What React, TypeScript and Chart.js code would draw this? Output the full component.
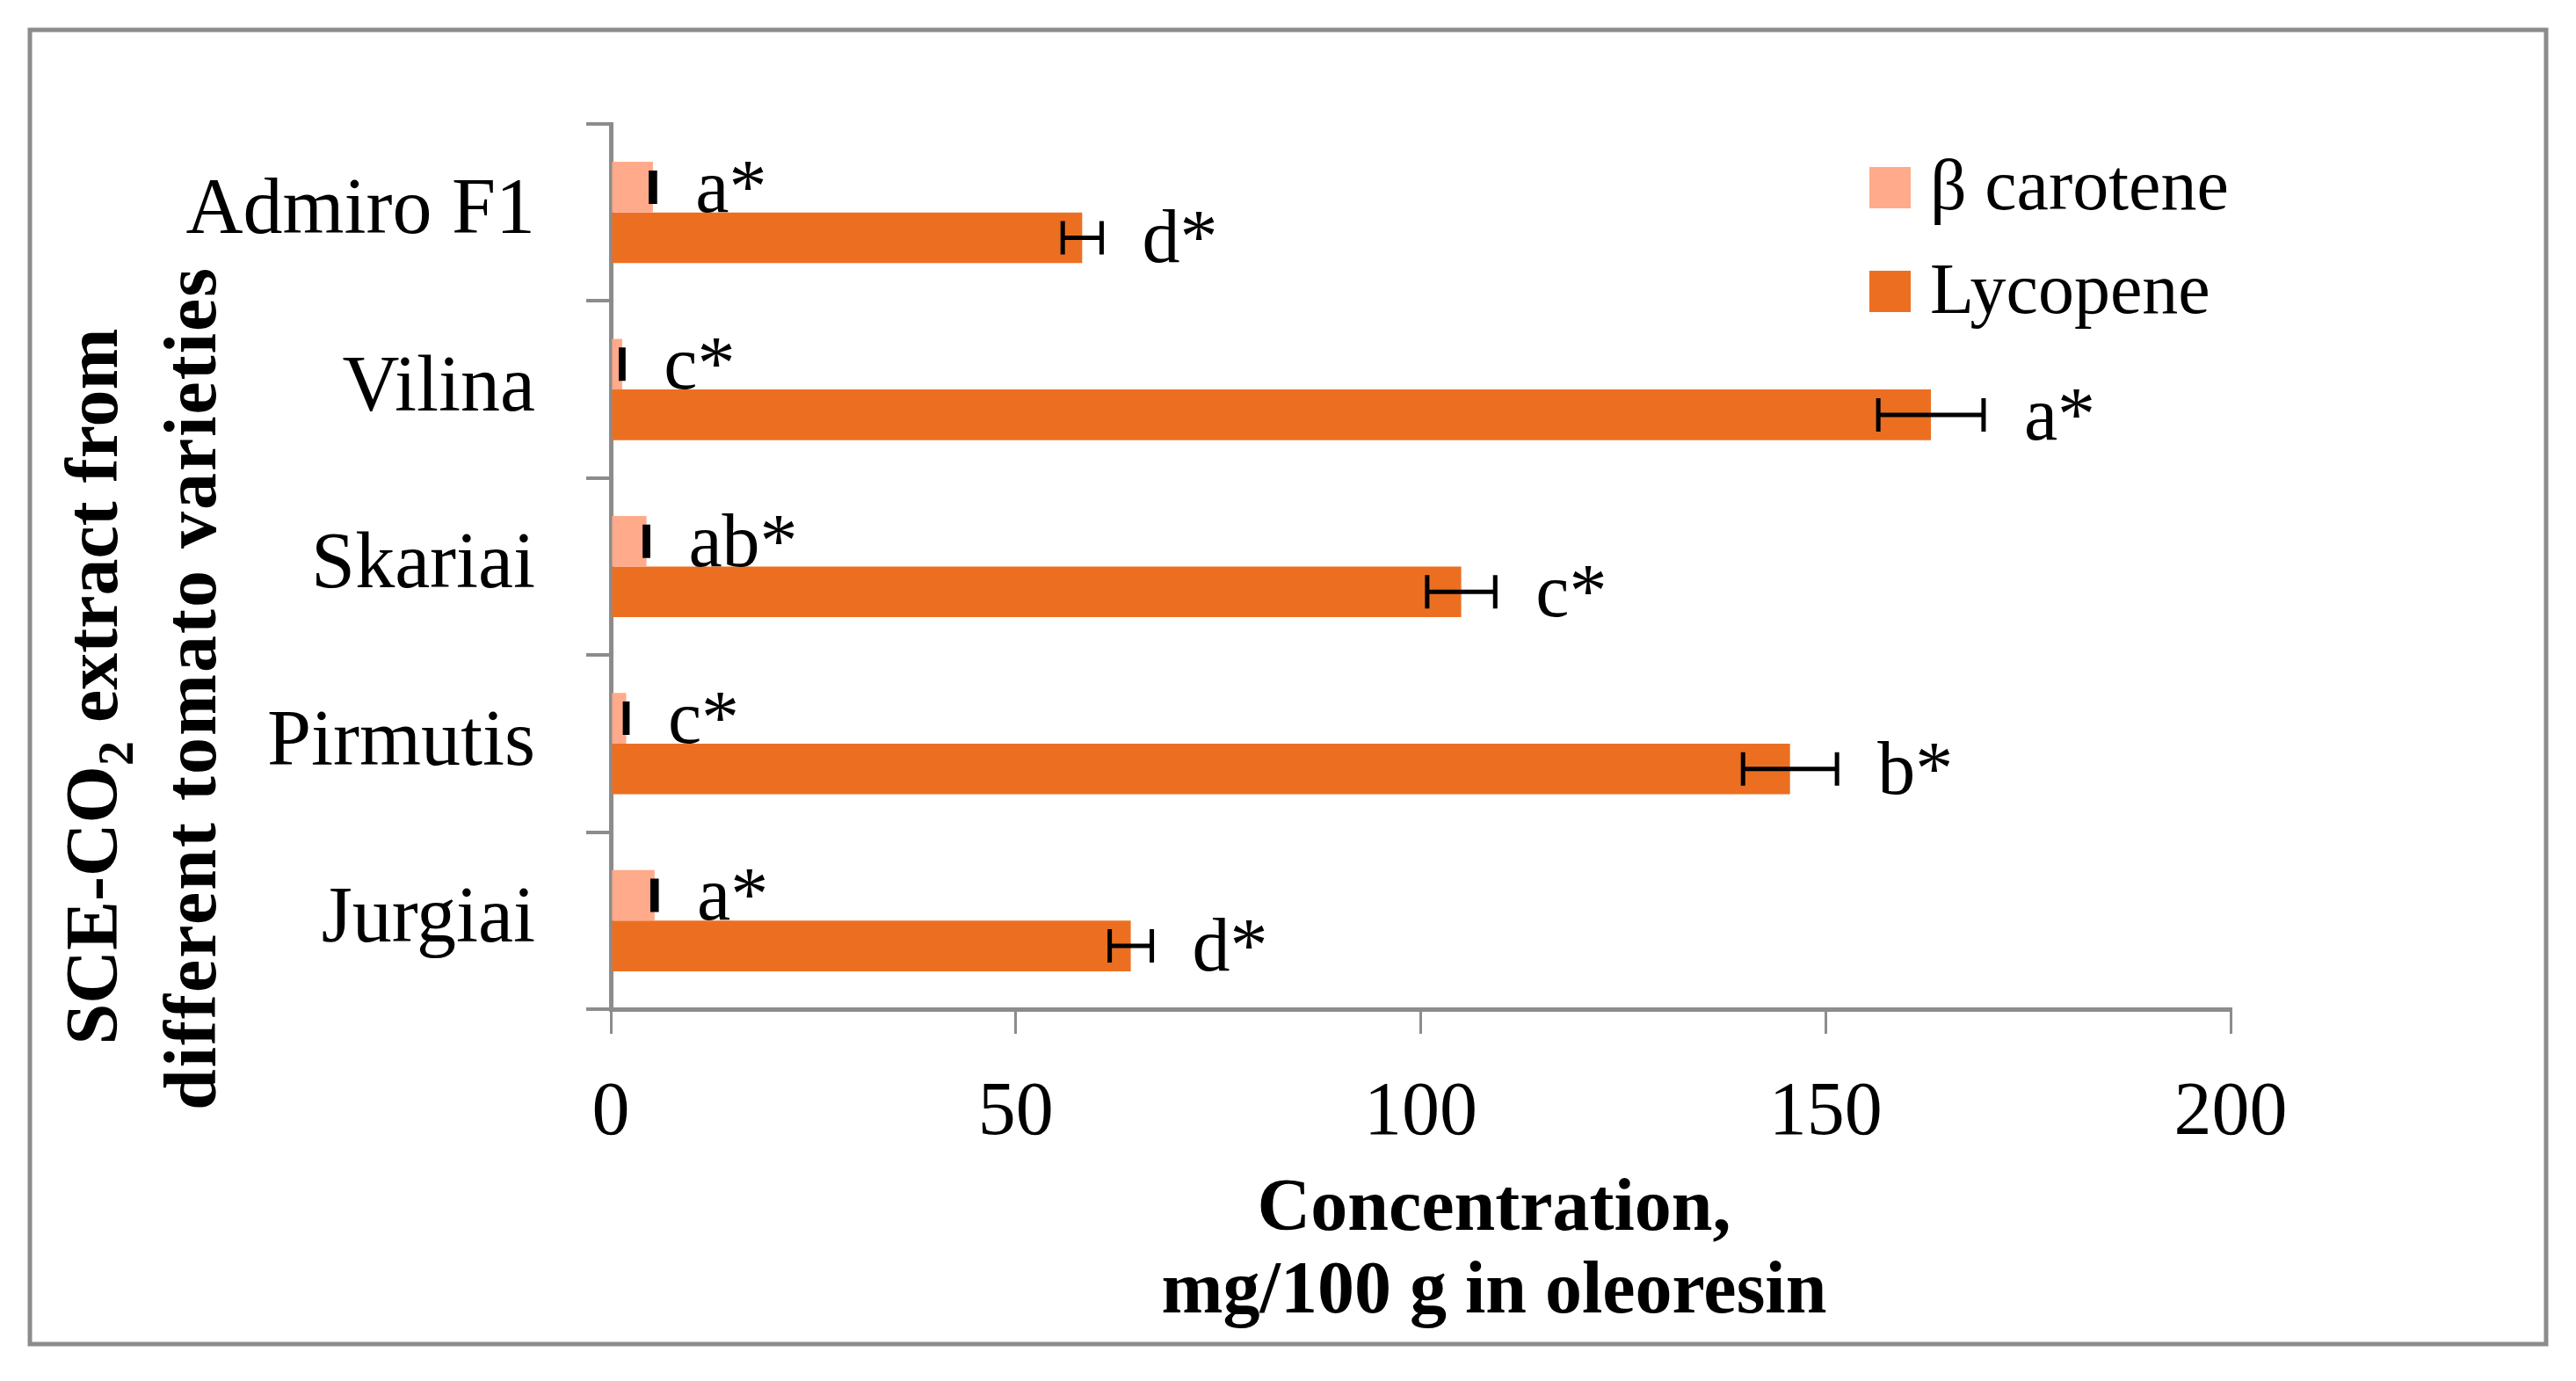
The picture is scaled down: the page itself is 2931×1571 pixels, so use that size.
import React, { useEffect, useRef } from 'react';
import { Chart, registerables } from 'chart.js';

Chart.register(...registerables);

const W = 2931;
const H = 1571;
const SERIF = '"Liberation Serif", "Times New Roman", serif';
const GRAY = '#8c8c8c';

const categories = ['Admiro F1', 'Vilina', 'Skariai', 'Pirmutis', 'Jurgiai'];
const seriesNames = ['\u03b2 carotene', 'Lycopene'];
const betaCarotene = [5.2, 1.4, 4.4, 1.9, 5.4];
const betaCaroteneErr = [0.25, 0.15, 0.2, 0.15, 0.25];
const lycopene = [58.2, 163.0, 105.0, 145.6, 64.2];
const lycopeneErr = [2.4, 6.5, 4.2, 5.8, 2.6];
const betaLetters = ['a*', 'c*', 'ab*', 'c*', 'a*'];
const lycopeneLetters = ['d*', 'a*', 'c*', 'b*', 'd*'];
const xMin = 0;
const xMax = 200;
const xStep = 50;
const colors = ['#FFAA8A', '#EC6F21'];
const xTitleLines = ['Concentration,', 'mg/100 g in oleoresin'];
const yTitleLine1 = ['SCE-CO', '2', ' extract from'];
const yTitleLine2 = 'different tomato varieties';

const errors = [betaCaroteneErr, lycopeneErr];
const letters = [betaLetters, lycopeneLetters];

const decorPlugin = {
  id: 'decor',
  beforeDraw(chart: any) {
    const ctx = chart.ctx;
    ctx.save();
    ctx.fillStyle = '#ffffff';
    ctx.fillRect(0, 0, chart.width, chart.height);
    ctx.strokeStyle = GRAY;
    ctx.lineWidth = 5;
    ctx.strokeRect(34, 34, 2863, 1495);
    ctx.restore();
  },
  afterDatasetsDraw(chart: any) {
    const ctx = chart.ctx;
    const xs = chart.scales.x;
    ctx.save();
    chart.data.datasets.forEach((ds: any, di: number) => {
      const meta = chart.getDatasetMeta(di);
      meta.data.forEach((bar: any, i: number) => {
        const v = ds.data[i];
        const e = errors[di][i];
        const x1 = xs.getPixelForValue(v - e);
        const x2 = xs.getPixelForValue(v + e);
        const y = bar.y;
        ctx.strokeStyle = '#000';
        ctx.lineWidth = 5;
        ctx.beginPath();
        ctx.moveTo(x1, y);
        ctx.lineTo(x2, y);
        ctx.moveTo(x1, y - 19);
        ctx.lineTo(x1, y + 19);
        ctx.moveTo(x2, y - 19);
        ctx.lineTo(x2, y + 19);
        ctx.stroke();
        ctx.fillStyle = '#000';
        ctx.font = `86px ${SERIF}`;
        ctx.textAlign = 'left';
        ctx.textBaseline = 'alphabetic';
        ctx.fillText(letters[di][i], x2 + 46, y + bar.height / 2 - 1);
      });
    });
    ctx.restore();
  },
  afterDraw(chart: any) {
    const ctx = chart.ctx;
    ctx.save();
    // legend
    const boxX = 2127;
    const rowY = [214, 332];
    chart.data.datasets.forEach((ds: any, di: number) => {
      ctx.fillStyle = ds.backgroundColor;
      ctx.fillRect(boxX, rowY[di] - 24, 47, 47);
      ctx.fillStyle = '#000';
      ctx.font = `82px ${SERIF}`;
      ctx.textAlign = 'left';
      ctx.textBaseline = 'middle';
      ctx.fillText(ds.label, boxX + 69, rowY[di] + 2);
    });
    // x title
    ctx.font = `bold 84px ${SERIF}`;
    ctx.textAlign = 'center';
    ctx.textBaseline = 'alphabetic';
    ctx.fillText(xTitleLines[0], 1700, 1399);
    ctx.fillText(xTitleLines[1], 1700, 1493);
    // y title
    const big = `bold 84px ${SERIF}`;
    const small = `bold 56px ${SERIF}`;
    ctx.textAlign = 'left';
    ctx.save();
    ctx.translate(133, 781);
    ctx.rotate(-Math.PI / 2);
    ctx.font = big;
    const w0 = ctx.measureText(yTitleLine1[0]).width;
    const w2 = ctx.measureText(yTitleLine1[2]).width;
    ctx.font = small;
    const w1 = ctx.measureText(yTitleLine1[1]).width;
    let x = -(w0 + w1 + w2) / 2;
    ctx.font = big;
    ctx.fillText(yTitleLine1[0], x, 0);
    x += w0;
    ctx.font = small;
    ctx.fillText(yTitleLine1[1], x, 18);
    x += w1;
    ctx.font = big;
    ctx.fillText(yTitleLine1[2], x, 0);
    ctx.restore();
    ctx.save();
    ctx.translate(245, 783);
    ctx.rotate(-Math.PI / 2);
    ctx.font = big;
    try {
      (ctx as any).letterSpacing = '2px';
    } catch (e) {
      /* ignore */
    }
    ctx.textAlign = 'center';
    ctx.fillText(yTitleLine2, 0, 0);
    ctx.restore();
    ctx.restore();
  },
};

export default function App() {
  const ref = useRef<HTMLCanvasElement>(null);
  useEffect(() => {
    document.body.style.margin = '0';
    const canvas = ref.current!;
    const chart = new Chart(canvas, {
      type: 'bar',
      data: {
        labels: categories,
        datasets: [
          {
            label: seriesNames[0],
            data: betaCarotene,
            backgroundColor: colors[0],
            categoryPercentage: 0.572,
            barPercentage: 1,
          },
          {
            label: seriesNames[1],
            data: lycopene,
            backgroundColor: colors[1],
            categoryPercentage: 0.572,
            barPercentage: 1,
          },
        ],
      },
      options: {
        indexAxis: 'y',
        responsive: false,
        maintainAspectRatio: false,
        devicePixelRatio: 1,
        animation: false,
        layout: { padding: { top: 141, right: 393, bottom: 223, left: 0 } },
        plugins: {
          legend: { display: false },
          tooltip: { enabled: false },
        },
        scales: {
          x: {
            type: 'linear',
            min: xMin,
            max: xMax,
            afterFit: (s: any) => {
              s.height = 200;
            },
            ticks: {
              stepSize: xStep,
              color: '#000',
              padding: 40,
              font: { family: SERIF, size: 86 },
            },
            grid: {
              drawOnChartArea: false,
              drawTicks: true,
              tickLength: 28,
              color: GRAY,
              lineWidth: 3,
            },
            border: { display: true, color: GRAY, width: 5 },
          },
          y: {
            type: 'category',
            z: 1,
            afterFit: (s: any) => {
              s.width = 695;
            },
            ticks: {
              color: '#000',
              padding: 58,
              font: { family: SERIF, size: 90 },
            },
            grid: {
              offset: true,
              drawOnChartArea: false,
              drawTicks: true,
              tickLength: 28,
              color: GRAY,
              lineWidth: 4,
            },
            border: { display: true, color: GRAY, width: 5 },
          },
        },
      },
      plugins: [decorPlugin],
    } as any);
    return () => chart.destroy();
  }, []);
  return (
    <div style={{ width: W, height: H, background: '#fff' }}>
      <canvas ref={ref} width={W} height={H} style={{ display: 'block', width: W, height: H }} />
    </div>
  );
}
